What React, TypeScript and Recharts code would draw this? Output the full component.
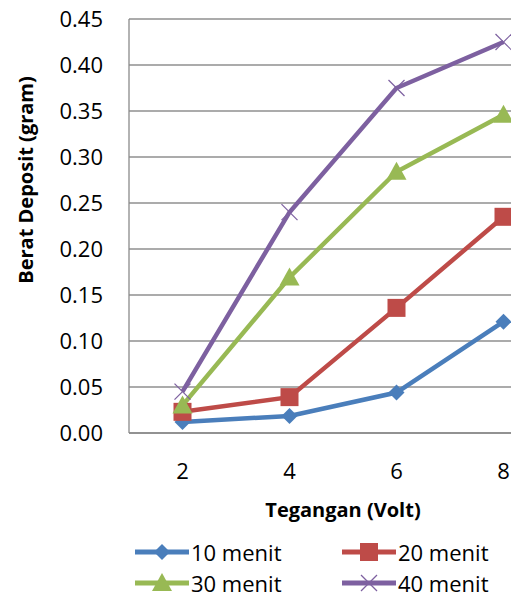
import { LineChart, Line, XAxis, YAxis, CartesianGrid, Legend } from 'recharts';

const voltages = [2, 4, 6, 8];
const menit10 = [0.012, 0.0185, 0.044, 0.121];
const menit20 = [0.023, 0.039, 0.136, 0.235];
const menit30 = [0.03, 0.169, 0.284, 0.346];
const menit40 = [0.045, 0.24, 0.375, 0.425];
const xTicks = [2, 4, 6, 8];
const yTicks = [0, 0.05, 0.1, 0.15, 0.2, 0.25, 0.3, 0.35, 0.4, 0.45];

const data = voltages.map((v, i) => ({
  v,
  m10: menit10[i],
  m20: menit20[i],
  m30: menit30[i],
  m40: menit40[i],
}));

type Shape = 'diamond' | 'square' | 'triangle' | 'cross';

const series: { key: string; name: string; color: string; shape: Shape }[] = [
  { key: 'm10', name: '10 menit', color: '#4A7EBB', shape: 'diamond' },
  { key: 'm20', name: '20 menit', color: '#BE4B48', shape: 'square' },
  { key: 'm30', name: '30 menit', color: '#98B954', shape: 'triangle' },
  { key: 'm40', name: '40 menit', color: '#7D60A0', shape: 'cross' },
];

const FONT = '"Open Sans", sans-serif';

const Marker = ({ cx, cy, shape, color }: { cx: number; cy: number; shape: Shape; color: string }) => {
  if (cx == null || cy == null) return null;
  switch (shape) {
    case 'diamond':
      return <path d={`M${cx},${cy - 8}L${cx + 8},${cy}L${cx},${cy + 8}L${cx - 8},${cy}Z`} fill={color} />;
    case 'square':
      return <rect x={cx - 9} y={cy - 9} width={18} height={18} fill={color} />;
    case 'triangle':
      return <path d={`M${cx},${cy - 10}L${cx + 10},${cy + 8}L${cx - 10},${cy + 8}Z`} fill={color} />;
    default:
      return (
        <g stroke={color} strokeWidth={1.2}>
          <line x1={cx - 8} y1={cy - 8} x2={cx + 8} y2={cy + 8} />
          <line x1={cx - 8} y1={cy + 8} x2={cx + 8} y2={cy - 8} />
        </g>
      );
  }
};

const LegendBox = () => {
  const cols = [135, 342];
  return (
    <div style={{ position: 'relative', height: 100, fontFamily: FONT, fontSize: 22, color: '#000' }}>
      {series.map((s, i) => {
        const left = cols[i % 2];
        const top = Math.floor(i / 2) * 31;
        return (
          <div key={s.key} style={{ position: 'absolute', left, top, height: 24, display: 'flex', alignItems: 'center' }}>
            <svg width={54} height={24} style={{ display: 'block' }}>
              <line x1={0} y1={12} x2={54} y2={12} stroke={s.color} strokeWidth={5} />
              <Marker cx={27} cy={12} shape={s.shape} color={s.color} />
            </svg>
            <span style={{ marginLeft: 2, lineHeight: '22px', whiteSpace: 'nowrap' }}>{s.name}</span>
          </div>
        );
      })}
    </div>
  );
};

export default function App() {
  return (
    <div style={{ position: 'absolute', left: 0, top: 0, width: 511, height: 595, overflow: 'hidden', background: '#fff' }}>
      <LineChart width={600} height={640} data={data} margin={{ top: 19, right: 43, bottom: 0, left: 0 }}>
        <CartesianGrid vertical={false} stroke="#8f8f8f" strokeWidth={1.3} />
        <XAxis
          dataKey="v"
          type="number"
          domain={[1, 9]}
          ticks={xTicks}
          height={107}
          axisLine={{ stroke: '#8a8a8a', strokeWidth: 1.3 }}
          tickLine={false}
          tickSize={0}
          tickMargin={30}
          tick={{ fill: '#000', fontSize: 22, fontFamily: FONT }}
          label={{ value: 'Tegangan (Volt)', position: 'insideBottom', offset: 23, fill: '#000', fontSize: 20, fontWeight: 700, fontFamily: FONT }}
        />
        <YAxis
          domain={[0, 0.45]}
          ticks={yTicks}
          width={129}
          interval={0}
          axisLine={{ stroke: '#8a8a8a', strokeWidth: 1.3 }}
          tickLine={false}
          tickSize={0}
          tickMargin={26}
          tickFormatter={(v: number) => v.toFixed(2)}
          tick={{ fill: '#000', fontSize: 22, fontFamily: FONT }}
          label={{
            content: () => (
              <text
                x={25}
                y={180}
                transform="rotate(-90 25 180)"
                textAnchor="middle"
                dominantBaseline="central"
                fill="#000"
                fontSize={20}
                fontWeight={700}
                fontFamily={FONT}
              >
                Berat Deposit (gram)
              </text>
            ),
          }}
        />
        <Legend verticalAlign="bottom" wrapperStyle={{ left: 0, width: 600 }} content={() => <LegendBox />} />
        {series.map((s) => (
          <Line
            key={s.key}
            dataKey={s.key}
            name={s.name}
            stroke={s.color}
            strokeWidth={4.5}
            isAnimationActive={false}
            dot={(p: any) => <Marker key={`${s.key}-${p.index}`} cx={p.cx} cy={p.cy} shape={s.shape} color={s.color} />}
            activeDot={false}
          />
        ))}
      </LineChart>
    </div>
  );
}
